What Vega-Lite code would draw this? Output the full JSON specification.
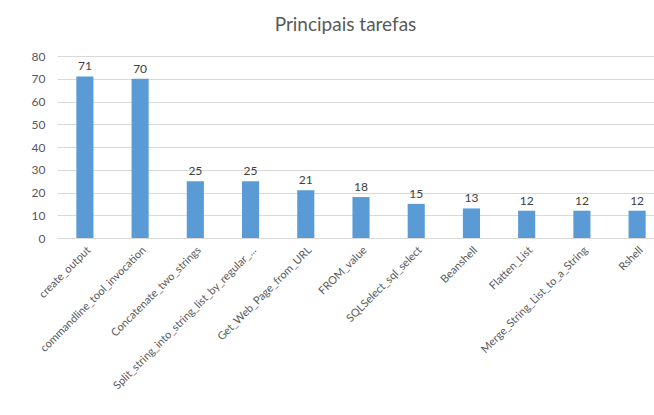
{
  "$schema": "https://vega.github.io/schema/vega-lite/v6.json",
  "autosize": "none",
  "padding": {"left": 57, "top": 56, "right": 0, "bottom": 177},
  "width": 597,
  "height": 182,
  "background": "white",
  "title": {"text": "Principais tarefas", "font": "Lato", "fontSize": 19, "fontWeight": "normal", "color": "#595959", "offset": 15, "anchor": "middle", "dx": -10},
  "data": {"values": [
    {"task": "create_output", "count": 71},
    {"task": "commandline_tool_invocation", "count": 70},
    {"task": "Concatenate_two_strings", "count": 25},
    {"task": "Split_string_into_string_list_by_regular_...", "count": 25},
    {"task": "Get_Web_Page_from_URL", "count": 21},
    {"task": "FROM_value", "count": 18},
    {"task": "SQLSelect_sql_select", "count": 15},
    {"task": "Beanshell", "count": 13},
    {"task": "Flatten_List", "count": 12},
    {"task": "Merge_String_List_to_a_String", "count": 12},
    {"task": "Rshell", "count": 12}
  ]},
  "config": {"view": {"stroke": null}, "font": "Lato"},
  "encoding": {
    "x": {"field": "task", "type": "nominal", "sort": null,
      "scale": {"paddingInner": 0.69, "paddingOuter": 0.35, "range": [0, 608]},
      "axis": {"title": null, "labelAngle": -45, "labelFontSize": 11, "labelColor": "#595959", "ticks": false, "domainColor": "#d9d9d9", "labelPadding": 6, "labelFont": "Lato", "labelLimit": 300}},
    "y": {"field": "count", "type": "quantitative",
      "scale": {"domain": [0, 80]},
      "axis": {"title": null, "values": [0,10,20,30,40,50,60,70,80], "labelFontSize": 12, "labelColor": "#595959", "domain": false, "ticks": false, "gridColor": "#d9d9d9", "labelPadding": 12, "labelFont": "Lato"}}
  },
  "layer": [
    {"mark": {"type": "bar", "color": "#5b9bd5"}},
    {"mark": {"type": "text", "dy": -10, "fontSize": 12, "color": "#404040", "font": "Lato"}, "encoding": {"text": {"field": "count", "type": "quantitative"}}}
  ]
}
